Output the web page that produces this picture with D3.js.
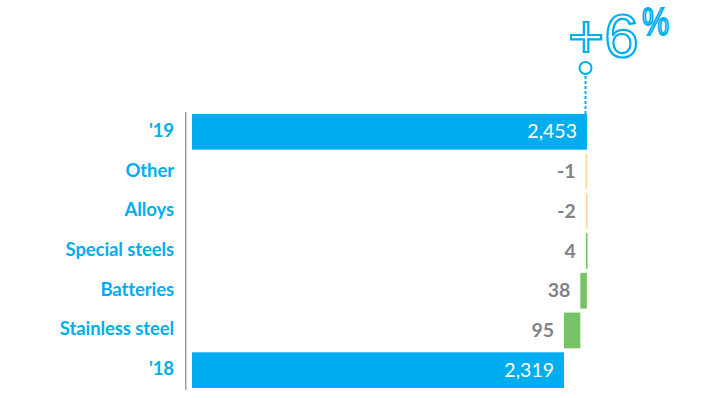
<!DOCTYPE html>
<html><head><meta charset="utf-8">
<script src="https://cdn.jsdelivr.net/npm/d3@7"></script>
<style>
html,body{margin:0;padding:0;background:#fff;}
svg{display:block;}
text{font-family:Lato, "Open Sans", sans-serif;}
</style></head>
<body>
<svg id="chart" width="720" height="398"></svg>
<script>
// Data (top to bottom)
const categories = ["'19", "Other", "Alloys", "Special steels", "Batteries", "Stainless steel", "'18"];
const kinds = ["total", "delta", "delta", "delta", "delta", "delta", "total"];
const values = [2453, -1, -2, 4, 38, 95, 2319];
const valueLabels = ["2,453", "-1", "-2", "4", "38", "95", "2,319"];
const changeLabel = "+6";
const changeSuffix = "%";
const axisStartValue = 150; // bars truncated at left

const svg = d3.select("#chart");
const blue = "#00aeef", green = "#77c266", orange = "#fcd59c", gray = "#808285";

const x = d3.scaleLinear().domain([axisStartValue, 2453]).range([192, 587]);
const y = d3.scaleBand().domain(categories).range([110, 392]).padding(0.1);

// compute waterfall from bottom ('18) upward
const n = categories.length;
const rows = categories.map((c, i) => ({cat: c, kind: kinds[i], value: values[i], label: valueLabels[i]}));
let running = values[n - 1];
rows[n - 1].x0 = axisStartValue; rows[n - 1].x1 = values[n - 1];
for (let i = n - 2; i >= 1; i--) {
  const r = rows[i];
  const start = running, end = running + r.value;
  r.x0 = Math.min(start, end); r.x1 = Math.max(start, end);
  running = end;
}
rows[0].x0 = axisStartValue; rows[0].x1 = values[0];

// axis line
svg.append("line").attr("x1", 185.7).attr("x2", 185.7)
  .attr("y1", y.range()[0] + 2).attr("y2", y.range()[1] - 2)
  .attr("stroke", "#9a9a9c").attr("stroke-width", 1.4);

const minW = 1.6;
// bars
svg.selectAll("rect.bar").data(rows).enter().append("rect")
  .attr("class", "bar")
  .attr("x", d => {
    const w = x(d.x1) - x(d.x0);
    return w < minW ? x(d.x1) - minW : x(d.x0);
  })
  .attr("width", d => Math.max(minW, x(d.x1) - x(d.x0)))
  .attr("y", d => y(d.cat))
  .attr("height", y.bandwidth())
  .attr("fill", d => d.kind === "total" ? blue : (d.value < 0 ? orange : green));

// category labels
svg.selectAll("text.cat").data(rows).enter().append("text")
  .attr("class", "cat")
  .attr("x", 174)
  .attr("y", d => y(d.cat) + y.bandwidth() / 2 + 5)
  .attr("text-anchor", "end")
  .attr("fill", blue)
  .attr("font-weight", 700)
  .attr("font-size", 18.5)
  .attr("letter-spacing", -0.1)
  .text(d => d.cat);

// value labels
svg.selectAll("text.val").data(rows).enter().append("text")
  .attr("class", "val")
  .attr("x", d => d.kind === "total" ? x(d.x1) - 10 : Math.min(x(d.x0), x(d.x1) - minW) - 10)
  .attr("y", d => y(d.cat) + y.bandwidth() / 2 + 6.5)
  .attr("text-anchor", "end")
  .attr("fill", d => d.kind === "total" ? "#fff" : gray)
  .attr("font-weight", d => d.kind === "total" ? 400 : 700)
  .attr("font-size", 19.5)
  .text(d => d.label);

// change annotation
const cx = x(values[0]) - 1.5;
svg.append("line").attr("x1", cx).attr("x2", cx)
  .attr("y1", 76).attr("y2", y(categories[0]))
  .attr("stroke", blue).attr("stroke-width", 2).attr("stroke-dasharray", "3,2");
svg.append("circle").attr("cx", cx).attr("cy", 68).attr("r", 6)
  .attr("fill", "#fff").attr("stroke", blue).attr("stroke-width", 2);
svg.append("text").attr("x", 568).attr("y", 57)
  .style("font-family", "'Liberation Sans', Arial, sans-serif")
  .attr("fill", "#fff").attr("stroke", blue).attr("stroke-width", 2.2)
  .attr("font-size", 62)
  .text(changeLabel);
svg.append("text").attr("x", 642).attr("y", 35)
  .style("font-family", "'Liberation Sans', Arial, sans-serif")
  .attr("fill", "#fff").attr("stroke", blue).attr("stroke-width", 2)
  .attr("font-size", 38)
  .attr("textLength", 27).attr("lengthAdjust", "spacingAndGlyphs")
  .text(changeSuffix);
</script>
</body></html>
